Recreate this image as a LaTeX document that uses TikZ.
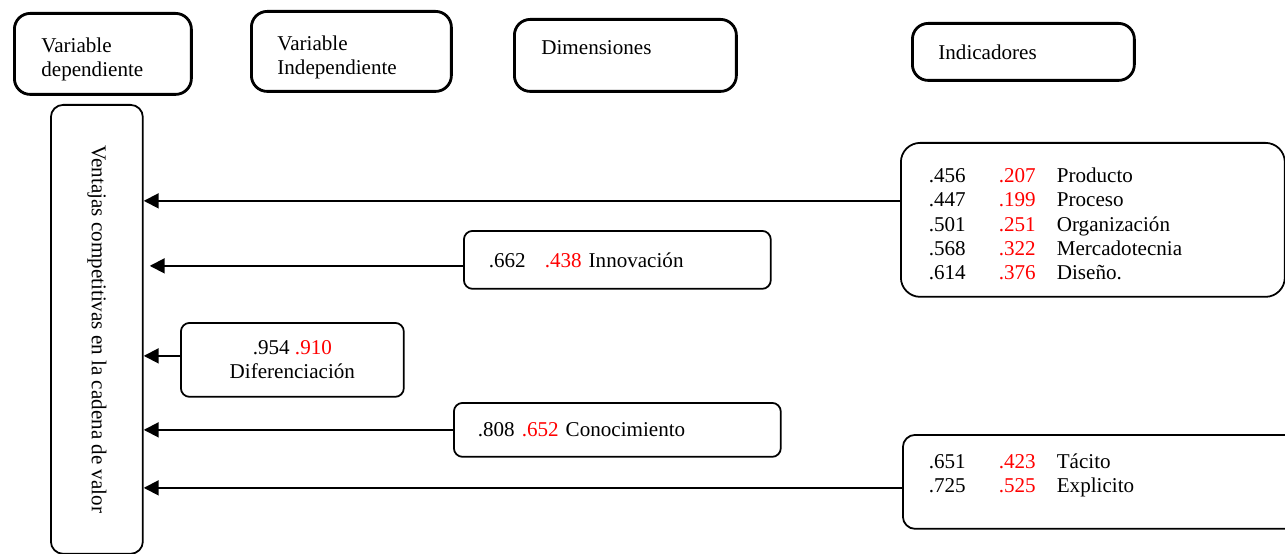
\documentclass[tikz,border=0pt]{standalone}
\usepackage{fontspec}
\setmainfont{Liberation Serif}
\usetikzlibrary{arrows.meta}
\newcommand{\rd}[1]{\textcolor{red}{#1}}
\begin{document}
\begin{tikzpicture}[x=0.02cm,y=-0.02cm,font=\fontsize{12}{13.8}\selectfont,
	hdr/.style={draw,line width=1.6pt,rounded corners=9pt,anchor=north west,align=left,inner ysep=0pt},
	bx/.style={draw,line width=1pt,rounded corners=5pt,anchor=north west,align=left,inner ysep=0pt},
	arr/.style={-{Triangle[length=0.3cm,width=0.3cm]},line width=1.1pt}]
	\clip (0,0) rectangle (1285,554);
	% encabezados
	\node[hdr,minimum height=1.62cm,inner xsep=0.54cm,text width=2.46cm] (vdep) at (13,12) {\rule{0pt}{0.52cm}Variable\\dependiente};
	\node[hdr,minimum height=1.6cm,inner xsep=0.52cm,text width=2.96cm] (vind) at (250,10) {\rule{0pt}{0.52cm}Variable\\Independiente};
	\node[hdr,minimum height=1.44cm,inner xsep=0.54cm,text width=3.36cm,text depth=0.3cm] (dim) at (513,18) {Dimensiones};
	\node[hdr,minimum height=1.14cm,inner xsep=0.52cm,text width=3.4cm] (inds) at (911,22) {Indicadores};
	% variable dependiente
	\node[bx,rounded corners=7pt,minimum width=1.84cm,minimum height=8.98cm,inner sep=0pt] (vd) at (50,104)
		{\rotatebox{-90}{Ventajas competitivas en la cadena de valor}};
	% dimensiones
	\node[bx,minimum height=1.16cm,inner xsep=0.5cm,text width=5.14cm] (inn) at (463,230) {.662\hspace{0.38cm}\rd{.438} Innovación};
	\node[bx,minimum width=4.46cm,minimum height=1.48cm,align=center] (dif) at (180,322) {.954 \rd{.910}\\Diferenciación};
	\node[bx,minimum height=1.08cm,inner xsep=0.48cm,text width=5.58cm] (con) at (453,402) {.808 \rd{.652} Conocimiento};
	% indicadores
	\node[bx,rounded corners=11pt,minimum height=3.08cm,inner xsep=0.56cm,text width=6.56cm] (ind1) at (900,142) {%
		\begin{tabular}{@{}p{1.4cm}@{}p{1.16cm}@{}l@{}}
			\rule{0pt}{0.6cm}.456 & \rd{.207} & Producto\\
			.447 & \rd{.199} & Proceso\\
			.501 & \rd{.251} & Organización\\
			.568 & \rd{.322} & Mercadotecnia\\
			.614 & \rd{.376} & Diseño.
		\end{tabular}};
	\node[bx,rounded corners=7pt,minimum height=1.88cm,inner xsep=0.52cm,text width=6.96cm] (ind2) at (902,434) {%
		\begin{tabular}{@{}p{1.4cm}@{}p{1.16cm}@{}l@{}}
			.651 & \rd{.423} & Tácito\\
			.725 & \rd{.525} & Explicito\\[0.24cm]
		\end{tabular}};
	% flechas
	\foreach \s/\dy/\gap in {ind1/0.38/0,inn/-0.12/0.12,dif/0.08/0,con/0/0,ind2/-0.12/0}{
		\coordinate (p\s) at ([yshift=\dy cm]\s.west);
		\draw[arr,shorten >=\gap cm] (p\s) -- (p\s -| vd.east);
	}
\end{tikzpicture}
\end{document}
